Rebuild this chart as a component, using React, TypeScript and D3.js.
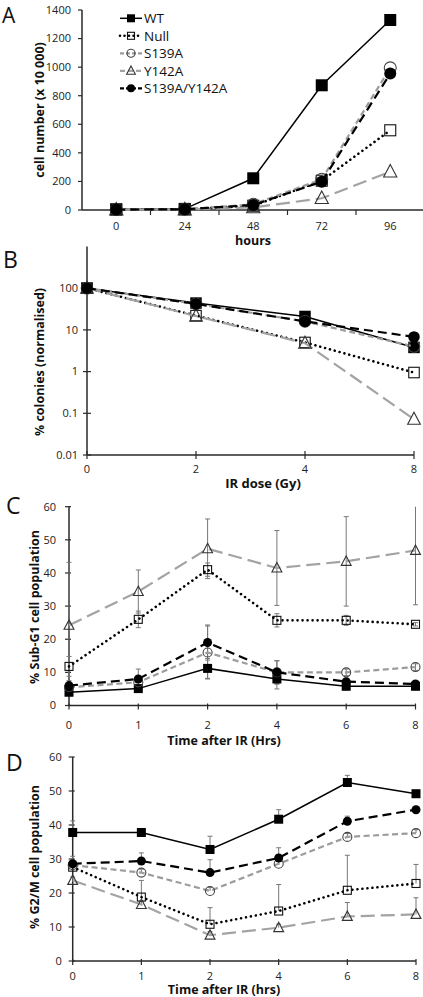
import React from "react";
import * as d3 from "d3";

// ---------- DATA ----------
const seriesNames = ["WT", "Null", "S139A", "Y142A", "S139A/Y142A"];

// Panel A: growth
const growthHours = ["0", "24", "48", "72", "96"];
const growthWT = [5, 8, 222, 873, 1330];
const growthNull = [3, 5, 30, 205, 558];
const growthS139A = [3, 5, 40, 215, 995];
const growthY142A = [2, 3, 18, 82, 268];
const growthDouble = [3, 5, 35, 198, 955];
const growthTicks = [0, 200, 400, 600, 800, 1000, 1200, 1400];

// Panel B: colony survival (log)
const doseGy = ["0", "2", "4", "8"];
const survWT = [100, 44, 21, 3.8];
const survNull = [100, 22, 5, 0.95];
const survS139A = [100, 42, 16, 4.0];
const survY142A = [100, 21.5, 4.8, 0.072];
const survDouble = [100, 42, 16, 6.8];
const survTicks = [0.01, 0.1, 1, 10, 100];

// Panel C: Sub-G1
const timeHrs = ["0", "1", "2", "4", "6", "8"];
const subG1WT = [4, 5.1, 11.2, 8, 5.8, 5.8];
const subG1WTErr = [1, 1, 3, 3, 1, 1];
const subG1Null = [11.8, 26, 41, 25.7, 25.7, 24.5];
const subG1NullErr = [3, 2.5, 2, 2, 1.5, 0.5];
const subG1S139A = [5.5, 7, 16, 10, 10, 11.6];
const subG1S139AErr = [1, 2, 8, 3.5, 1, 1];
const subG1Y142A = [24.2, 34.4, 47.3, 41.5, 43.5, 46.8];
const subG1Y142AErr = [19, 6.5, 9, 11.3, 13.5, 16.4];
const subG1Double = [6, 8, 19, 10, 7.2, 6.5];
const subG1DoubleErr = [1.5, 3, 5.3, 3.5, 1, 1];

// Panel D: G2/M
const g2mWT = [37.8, 37.8, 32.8, 41.7, 52.5, 49.2];
const g2mWTErr = [3.4, 0, 3.9, 2.8, 2.1, 0];
const g2mNull = [27.6, 18.8, 10.8, 14.7, 20.8, 22.8];
const g2mNullErr = [0, 4.9, 4.9, 7.8, 10.3, 5.6];
const g2mS139A = [28.2, 26, 20.6, 28.6, 36.5, 37.6];
const g2mS139AErr = [1, 1, 1, 1, 1, 1];
const g2mY142A = [23.7, 16.6, 7.6, 9.8, 13.1, 13.7];
const g2mY142AErr = [1, 1, 1, 1, 4.1, 4.9];
const g2mDouble = [28.6, 29.4, 26, 30.3, 41.1, 44.5];
const g2mDoubleErr = [2.2, 2.4, 3.8, 3, 1.5, 1];
const pctTicks = [0, 10, 20, 30, 40, 50, 60];

// ---------- STYLES ----------
type Style = { stroke: string; width: number; dash?: string; cap?: string; marker: string };
const styles: Style[] = [
  { stroke: "#000", width: 1.5, marker: "sq" },
  { stroke: "#000", width: 2.6, dash: "0.01 5", cap: "round", marker: "osq" },
  { stroke: "#9c9c9c", width: 2.2, dash: "6 3.5", marker: "ocirc" },
  { stroke: "#a3a3a3", width: 2.2, dash: "14 6", marker: "otri" },
  { stroke: "#000", width: 2.2, dash: "9 5", marker: "circ" },
];

const FONT = "'Open Sans', 'DejaVu Sans', sans-serif";
const AXIS = "#2a2a2a";

function Marker({ type, x, y, s }: { type: string; x: number; y: number; s: number }) {
  const h = s / 2;
  if (type === "sq") return <rect x={x - h} y={y - h} width={s} height={s} fill="#000" />;
  if (type === "osq")
    return <rect x={x - h + 0.5} y={y - h + 0.5} width={s - 1} height={s - 1} fill="none" stroke="#111" strokeWidth={1.1} />;
  if (type === "ocirc") return <circle cx={x} cy={y} r={h} fill="none" stroke="#444" strokeWidth={1.1} />;
  if (type === "circ") return <circle cx={x} cy={y} r={h} fill="#000" />;
  const t = s * 1.1;
  const p = `M${x},${y - t * 0.55}L${x + t / 2},${y + t * 0.4}L${x - t / 2},${y + t * 0.4}Z`;
  return <path d={p} fill="none" stroke="#333" strokeWidth={1.1} />;
}

function SeriesLine({
  xs, ys, style, ms,
}: { xs: number[]; ys: number[]; style: Style; ms: number }) {
  const line = d3.line<number>().x((_, i) => xs[i]).y((d) => d);
  return (
    <g>
      <path
        d={line(ys) || ""}
        fill="none"
        stroke={style.stroke}
        strokeWidth={style.width}
        strokeDasharray={style.dash}
        strokeLinecap={(style.cap as any) || "butt"}
      />
      {ys.map((y, i) => (
        <Marker key={i} type={style.marker} x={xs[i]} y={y} s={ms} />
      ))}
    </g>
  );
}

function ErrBars({ xs, y, vals, errs, both, top }: { xs: number[]; y: d3.ScaleLinear<number, number>; vals: number[]; errs: number[]; both: boolean; top: number }) {
  return (
    <g stroke="#777" strokeWidth={1}>
      {vals.map((v, i) => {
        if (!errs[i]) return null;
        const hi = Math.min(v + errs[i], top);
        const lo = both ? v - errs[i] : v;
        const x = xs[i];
        return (
          <g key={i}>
            <line x1={x} x2={x} y1={y(hi)} y2={y(lo)} />
            {v + errs[i] <= top && <line x1={x - 2.5} x2={x + 2.5} y1={y(hi)} y2={y(hi)} />}
            {both && <line x1={x - 2.5} x2={x + 2.5} y1={y(lo)} y2={y(lo)} />}
          </g>
        );
      })}
    </g>
  );
}

function YTitle({ x, y, text }: { x: number; y: number; text: string }) {
  return (
    <text transform={`translate(${x},${y}) rotate(-90)`} textAnchor="middle" dy="0.35em" fontSize={12.5} fontWeight="bold" fontFamily={FONT} fill="#111">
      {text}
    </text>
  );
}

function PanelA() {
  const x = d3.scaleBand<string>().domain(growthHours).range([82, 424.5]).padding(0);
  const y = d3.scaleLinear().domain([0, 1400]).range([210, 10]);
  const xs = growthHours.map((h) => (x(h) as number) + x.bandwidth() / 2);
  const all = [growthWT, growthNull, growthS139A, growthY142A, growthDouble];
  const edges = growthHours.slice(1).map((h) => x(h) as number);
  return (
    <g>
      <text x={2} y={23} fontSize={21} fontFamily={FONT} fill="#111">A</text>
      <line x1={82} x2={82} y1={y(1400)} y2={y(0)} stroke={AXIS} strokeWidth={1.5} />
      <line x1={82} x2={423} y1={y(0)} y2={y(0)} stroke={AXIS} strokeWidth={1.5} />
      {growthTicks.map((t) => (
        <g key={t}>
          <line x1={78} x2={82} y1={y(t)} y2={y(t)} stroke={AXIS} strokeWidth={1.2} />
          <text x={71} y={y(t)} dy="0.35em" textAnchor="end" fontSize={11} fontFamily={FONT} fill="#222">{t}</text>
        </g>
      ))}
      {edges.map((e, i) => (
        <line key={i} x1={e} x2={e} y1={y(0)} y2={y(0) + 5} stroke={AXIS} strokeWidth={1.2} />
      ))}
      {growthHours.map((h, i) => (
        <text key={h} x={xs[i]} y={229.5} textAnchor="middle" fontSize={11} fontFamily={FONT} fill="#222">{h}</text>
      ))}
      <text x={253} y={244.5} textAnchor="middle" fontSize={12.5} fontWeight="bold" fontFamily={FONT} fill="#111">hours</text>
      <YTitle x={40} y={110} text="cell number (x 10 000)" />
      {all.map((d, si) => (
        <SeriesLine key={si} xs={xs} ys={d.map((v) => y(v))} style={styles[si]} ms={12} />
      ))}
      {seriesNames.map((n, i) => {
        const ly = 18.3 + i * 17.5;
        const st = styles[i];
        return (
          <g key={n}>
            <line x1={120} x2={142} y1={ly} y2={ly} stroke={st.stroke} strokeWidth={st.width} strokeDasharray={st.dash ? (i === 1 ? "0.01 4.5" : i === 3 ? "5 3" : "4 2") : undefined} strokeLinecap={(st.cap as any) || "butt"} />
            <Marker type={st.marker} x={131} y={ly} s={8} />
            <text x={144} y={ly} dy="0.35em" fontSize={13.5} fontFamily={FONT} fill="#111">{n}</text>
          </g>
        );
      })}
    </g>
  );
}

function PanelB() {
  const x = d3.scalePoint<string>().domain(doseGy).range([87, 414]);
  const y = d3.scaleLog().domain([0.01, 1000]).range([455, 246.5]);
  const xs = doseGy.map((d) => x(d) as number);
  const all = [survWT, survNull, survS139A, survY142A, survDouble];
  return (
    <g>
      <text x={3} y={268} fontSize={23} fontFamily={FONT} fill="#111">B</text>
      <line x1={87} x2={87} y1={246.5} y2={455} stroke={AXIS} strokeWidth={1.5} />
      <line x1={87} x2={414} y1={455} y2={455} stroke={AXIS} strokeWidth={1.5} />
      {survTicks.map((t) => (
        <g key={t}>
          <line x1={83} x2={91} y1={y(t)} y2={y(t)} stroke={AXIS} strokeWidth={1.2} />
          <text x={78} y={y(t)} dy="0.35em" textAnchor="end" fontSize={11} fontFamily={FONT} fill="#222">{String(t)}</text>
        </g>
      ))}
      {doseGy.map((d, i) => (
        <g key={d}>
          <line x1={xs[i]} x2={xs[i]} y1={451} y2={459} stroke={AXIS} strokeWidth={1.2} />
          <text x={xs[i]} y={473} textAnchor="middle" fontSize={11} fontFamily={FONT} fill="#222">{d}</text>
        </g>
      ))}
      <text x={263} y={488} textAnchor="middle" fontSize={13} fontWeight="bold" fontFamily={FONT} fill="#111">IR dose (Gy)</text>
      <YTitle x={40} y={362} text="% colonies (normalised)" />
      {all.map((d, si) => (
        <SeriesLine key={si} xs={xs} ys={d.map((v) => y(v))} style={styles[si]} ms={11.5} />
      ))}
    </g>
  );
}

function PctPanel({
  letter, letterY, x0, x1, y0, y1, data, errs, both, title, xTitle, yTitleX, yTitleY, tickY, titleY, labelGap,
}: {
  letter: string; letterY: number; x0: number; x1: number; y0: number; y1: number;
  data: number[][]; errs: number[][]; both: boolean; title: string; xTitle: string;
  yTitleX: number; yTitleY: number; tickY: number; titleY: number; labelGap: number;
}) {
  const x = d3.scalePoint<string>().domain(timeHrs).range([x0, x1]);
  const y = d3.scaleLinear().domain([0, 60]).range([y0, y1]);
  const xs = timeHrs.map((t) => x(t) as number);
  return (
    <g>
      <text x={6} y={letterY} fontSize={23} fontFamily={FONT} fill="#111">{letter}</text>
      <line x1={x0} x2={x0} y1={y(60)} y2={y(0)} stroke={AXIS} strokeWidth={1.5} />
      <line x1={x0} x2={x1} y1={y(0)} y2={y(0)} stroke={AXIS} strokeWidth={1.5} />
      {pctTicks.map((t) => (
        <g key={t}>
          <line x1={x0 - 4} x2={x0 + 2} y1={y(t)} y2={y(t)} stroke={AXIS} strokeWidth={1.2} />
          <text x={x0 - labelGap} y={y(t)} dy="0.35em" textAnchor="end" fontSize={11} fontFamily={FONT} fill="#222">{t}</text>
        </g>
      ))}
      {timeHrs.map((t, i) => (
        <g key={t}>
          <line x1={xs[i]} x2={xs[i]} y1={y(0) - 2} y2={y(0) + 4} stroke={AXIS} strokeWidth={1.2} />
          <text x={xs[i]} y={tickY} textAnchor="middle" fontSize={11} fontFamily={FONT} fill="#222">{t}</text>
        </g>
      ))}
      <text x={224} y={titleY} textAnchor="middle" fontSize={12.5} fontWeight="bold" fontFamily={FONT} fill="#111">{xTitle}</text>
      <YTitle x={yTitleX} y={yTitleY} text={title} />
      {data.map((d, si) => (
        <ErrBars key={"e" + si} xs={xs} y={y} vals={d} errs={errs[si]} both={both} top={60} />
      ))}
      {data.map((d, si) => (
        <SeriesLine key={si} xs={xs} ys={d.map((v) => y(v))} style={styles[si]} ms={9} />
      ))}
    </g>
  );
}

export default function App() {
  return (
    <div style={{ position: "absolute", left: 0, top: 0, width: 423, height: 997, background: "#fff" }}>
      <svg width={423} height={997} style={{ display: "block" }}>
        <rect width={423} height={997} fill="#fff" />
        <PanelA />
        <PanelB />
        <PctPanel
          letter="C" letterY={514} x0={69} x1={415.5} y0={705.5} y1={506.7}
          data={[subG1WT, subG1Null, subG1S139A, subG1Y142A, subG1Double]}
          errs={[subG1WTErr, subG1NullErr, subG1S139AErr, subG1Y142AErr, subG1DoubleErr]}
          both={true} title="% Sub-G1 cell population" xTitle="Time after IR (Hrs)"
          yTitleX={35} yTitleY={607} tickY={729} titleY={745} labelGap={13}
        />
        <PctPanel
          letter="D" letterY={771} x0={72.7} x1={416} y0={961} y1={757}
          data={[g2mWT, g2mNull, g2mS139A, g2mY142A, g2mDouble]}
          errs={[g2mWTErr, g2mNullErr, g2mS139AErr, g2mY142AErr, g2mDoubleErr]}
          both={false} title="% G2/M cell population" xTitle="Time after IR (hrs)"
          yTitleX={35} yTitleY={857} tickY={979.5} titleY={994} labelGap={11}
        />
      </svg>
    </div>
  );
}
